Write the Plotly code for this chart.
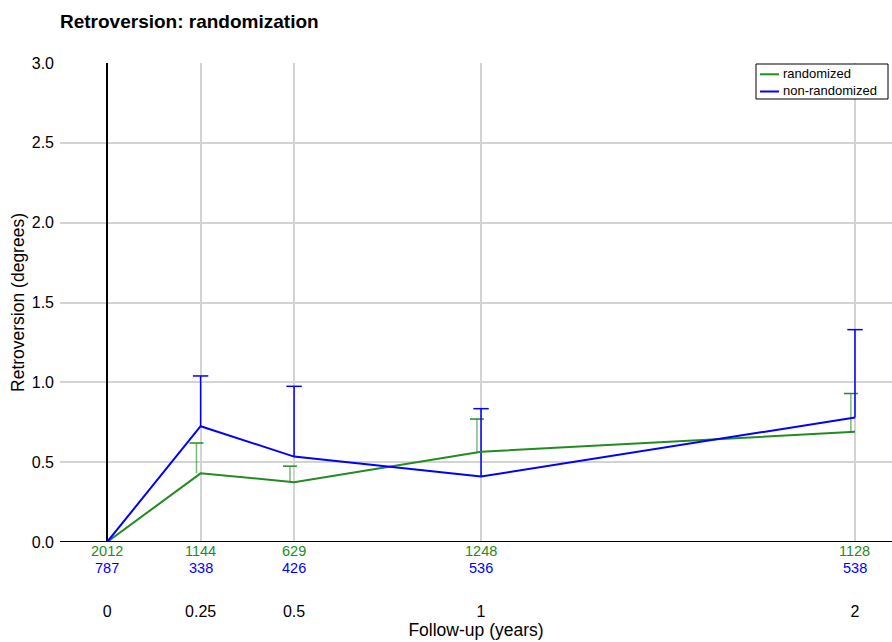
import plotly.graph_objects as go

# Follow-up times (years) and mean retroversion per group
follow_up = [0, 0.25, 0.5, 1, 2]
tick_labels = ["0", "0.25", "0.5", "1", "2"]

rand_mean = [0.0, 0.43, 0.375, 0.565, 0.69]
rand_upper = [0.0, 0.62, 0.475, 0.77, 0.93]
rand_n = [2012, 1144, 629, 1248, 1128]

nonrand_mean = [0.0, 0.725, 0.535, 0.41, 0.78]
nonrand_upper = [0.0, 1.04, 0.975, 0.835, 1.33]
nonrand_n = [787, 338, 426, 536, 538]

group_names = ["randomized", "non-randomized"]

GREEN = "#228b22"
BLUE = "#0000ff"
DODGE = 0.011  # small horizontal shift so the two groups' bars don't overlap

W, H = 892, 642
M = dict(l=60, r=0, t=63, b=100)
PW, PH = W - M["l"] - M["r"], H - M["t"] - M["b"]


def px_x(px):
    return (px - M["l"]) / PW


def px_y(py):
    return (H - M["b"] - py) / PH


def upper_bar(x, mean, upper, color, stem_color, cap):
    """One-sided (upper) error bar: stem via error_y, cap via a line marker."""
    stems = go.Scatter(
        x=x, y=mean, mode="markers", marker=dict(size=1, opacity=0),
        showlegend=False, hoverinfo="skip",
        error_y=dict(type="data", symmetric=False,
                     array=[u - m for u, m in zip(upper, mean)],
                     arrayminus=[0] * len(mean), color=stem_color, thickness=1.5, width=0),
    )
    caps = go.Scatter(
        x=x, y=upper, mode="markers", showlegend=False, hoverinfo="skip",
        marker=dict(symbol="line-ew", size=cap, line=dict(color=color, width=1.5)),
    )
    return [stems, caps]


fig = go.Figure()
fig.add_traces(upper_bar([t - DODGE for t in follow_up[1:]], rand_mean[1:], rand_upper[1:],
                         GREEN, "rgba(34,139,34,0.6)", 10))
fig.add_traces(upper_bar(follow_up[1:], nonrand_mean[1:], nonrand_upper[1:],
                         BLUE, BLUE, 11))

fig.add_trace(go.Scatter(x=follow_up, y=rand_mean, mode="lines", name=group_names[0],
                         line=dict(color=GREEN, width=2), showlegend=False))
fig.add_trace(go.Scatter(x=follow_up, y=nonrand_mean, mode="lines", name=group_names[1],
                         line=dict(color=BLUE, width=2), showlegend=False))

# number-at-risk rows under the axis
for t, n in zip(follow_up, rand_n):
    fig.add_annotation(x=t, y=0, xref="x", yref="paper", text=str(n), showarrow=False,
                       yanchor="middle", yshift=-9, font=dict(color=GREEN, size=14.5))
for t, n in zip(follow_up, nonrand_n):
    fig.add_annotation(x=t, y=0, xref="x", yref="paper", text=str(n), showarrow=False,
                       yanchor="middle", yshift=-26, font=dict(color=BLUE, size=14.5))

# compact boxed legend in the top-right corner
fig.add_shape(type="rect", xref="paper", yref="paper",
              x0=px_x(756), x1=px_x(888), y0=px_y(99), y1=px_y(64),
              line=dict(color="black", width=1), fillcolor="white", layer="above")
for name, color, row in zip(group_names, [GREEN, BLUE], [73.3, 90.5]):
    fig.add_shape(type="line", xref="paper", yref="paper",
                  x0=px_x(760), x1=px_x(779), y0=px_y(row + 1), y1=px_y(row + 1),
                  line=dict(color=color, width=2), layer="above")
    fig.add_annotation(x=px_x(782), y=px_y(row), xref="paper", yref="paper", text=name,
                       showarrow=False, xanchor="left", yanchor="middle", borderpad=0,
                       font=dict(size=13, color="black"))

fig.update_layout(
    width=W, height=H, margin=M,
    paper_bgcolor="white", plot_bgcolor="white",
    font=dict(family="Liberation Sans, Arial, sans-serif", size=16, color="black"),
    title=dict(text="<b>Retroversion: randomization</b>", x=0, xref="paper", xanchor="left",
               y=1 - 21 / H, yanchor="middle", font=dict(size=19)),
    showlegend=False,
)
fig.update_xaxes(
    range=[-0.126, 2.099], tickvals=follow_up, ticktext=tick_labels,
    showgrid=True, gridcolor="#d3d3d3", gridwidth=1.5,
    zeroline=True, zerolinecolor="black", zerolinewidth=1.5,
    showline=False, ticks="", ticklabelstandoff=58, tickfont=dict(size=16),
    title=dict(text="Follow-up (years)", standoff=0, font=dict(size=17.5)),
)
fig.update_yaxes(
    range=[0, 3.0], tickvals=[0, 0.5, 1, 1.5, 2, 2.5, 3],
    ticktext=["0.0", "0.5", "1.0", "1.5", "2.0", "2.5", "3.0"],
    showgrid=True, gridcolor="#d3d3d3", gridwidth=1.5,
    zeroline=False, showline=False, ticks="", ticklabelstandoff=5, tickfont=dict(size=16),
    title=dict(text="Retroversion (degrees)", standoff=2, font=dict(size=17.5)),
)
# heavy baseline at y=0
fig.add_shape(type="line", xref="paper", yref="y", x0=0, x1=1, y0=0, y1=0,
              line=dict(color="black", width=2))

fig.write_html("out.html")
